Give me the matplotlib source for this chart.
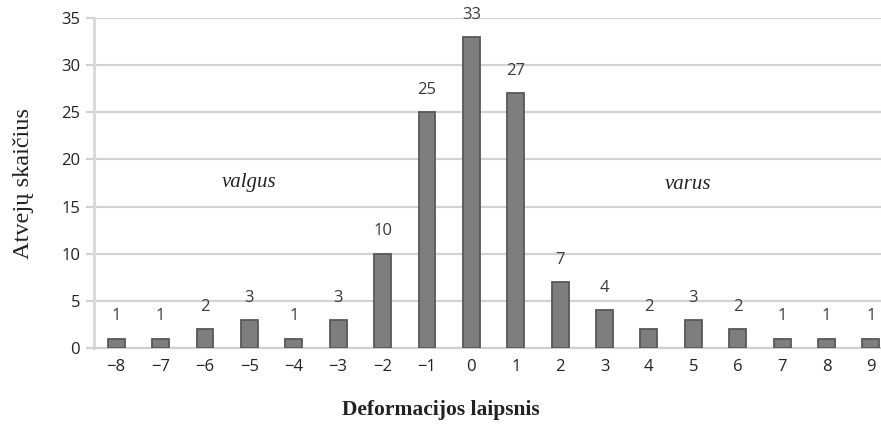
import matplotlib
matplotlib.use("Agg")
import matplotlib.pyplot as plt

# Deformation degree categories and case counts
degrees = [-8, -7, -6, -5, -4, -3, -2, -1, 0, 1, 2, 3, 4, 5, 6, 7, 8, 9]
counts = [1, 1, 2, 3, 1, 3, 10, 25, 33, 27, 7, 4, 2, 3, 2, 1, 1, 1]
tick_labels = [str(d).replace("-", "\u2212") for d in degrees]
y_ticks = [0, 5, 10, 15, 20, 25, 30, 35]

fig = plt.figure(figsize=(8.81, 4.26), dpi=100)
ax = fig.add_axes([0.1067, 0.183, 0.907, 0.775])

pos = list(range(len(degrees)))
bars = ax.bar(pos, counts, width=0.38, color="#7e7e7e", edgecolor="#585858",
              linewidth=1.3, zorder=3)

for x, v in zip(pos, counts):
    ax.annotate(str(v), (x, v), xytext=(0, 16), textcoords="offset points",
                ha="center", va="center", fontsize=12, color="#3a3a3a",
                family="Open Sans")

ax.set_xlim(-0.5, len(degrees) - 0.5)
ax.set_ylim(0, 35)
ax.set_yticks(y_ticks)
ax.set_xticks(pos)
ax.set_xticklabels(tick_labels)

ax.yaxis.grid(True, color="#d2d2d2", linewidth=1.6, zorder=0)
ax.set_axisbelow(True)
for s in ["top", "right"]:
    ax.spines[s].set_visible(False)
ax.spines["left"].set_color("#dadada")
ax.spines["left"].set_linewidth(2.2)
ax.spines["bottom"].set_color("#cfcfcf")
ax.spines["bottom"].set_linewidth(1.6)

ax.tick_params(axis="y", length=6, width=1.6, color="#d2d2d2", pad=4,
               labelsize=12, labelcolor="#222222")
ax.tick_params(axis="x", length=0, pad=8, labelsize=12, labelcolor="#222222")
for lab in ax.get_xticklabels() + ax.get_yticklabels():
    lab.set_family("Open Sans")

ax.text(degrees.index(-5), 17.6, "valgus", fontstyle="italic",
        family="Liberation Serif", fontsize=15, ha="center", va="center",
        color="#222222")
ax.text(degrees.index(5) - 0.12, 17.3, "varus", fontstyle="italic",
        family="Liberation Serif", fontsize=15, ha="center", va="center",
        color="#222222")

fig.text(0.027, 0.57, "Atvejų skaičius", rotation=90, ha="center",
         va="center", family="Liberation Serif", fontsize=17.5, color="#222222")
fig.text(0.5, 0.037, "Deformacijos laipsnis", ha="center", va="center",
         family="Liberation Serif", fontweight="bold", fontsize=15.5,
         color="#222222")

fig.savefig("out.png", dpi=100)
